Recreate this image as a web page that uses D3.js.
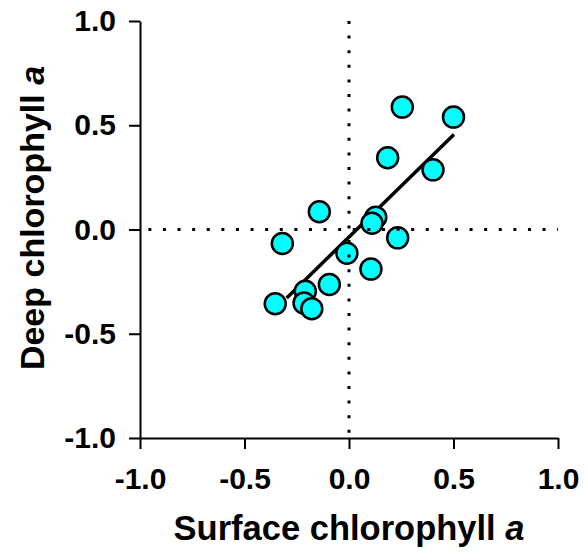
<!DOCTYPE html>
<html lang="en">
<head>
  <meta charset="UTF-8">
  <title>Surface vs deep chlorophyll a</title>
  <script src="https://d3js.org/d3.v7.min.js"></script>
  <style>
    body { margin: 0; background: #fff; }
    svg text { font-family: "Liberation Sans", Arial, sans-serif; font-weight: bold; fill: #000; }
  </style>
</head>
<body>
  <div id="chart"></div>
  <script>
    // anomalies
    const surfaceChl = [0.255, 0.50, 0.185, 0.402, -0.142, 0.128, 0.110, -0.319,
                        0.233, -0.010, 0.105, -0.094, -0.353, -0.209, -0.215, -0.178];
    const deepChl    = [0.587, 0.539, 0.344, 0.286, 0.085, 0.059, 0.030, -0.067,
                        -0.040, -0.114, -0.190, -0.264, -0.356, -0.296, -0.353, -0.380];
    // fitted line end points
    const fitX = [-0.298, 0.502];
    const fitY = [-0.328, 0.456];
    const tickValues = [-1.0, -0.5, 0.0, 0.5, 1.0];

    const W = 587, H = 555;
    const svg = d3.select("#chart").append("svg")
      .attr("width", W).attr("height", H);

    const x = d3.scaleLinear().domain([-1, 1]).range([140, 558]);
    const y = d3.scaleLinear().domain([-1, 1]).range([438, 21]);

    // fitted line (under the points)
    svg.append("line")
      .attr("x1", x(fitX[0])).attr("y1", y(fitY[0]))
      .attr("x2", x(fitX[1])).attr("y2", y(fitY[1]))
      .attr("stroke", "#000").attr("stroke-width", 3.5);

    // points
    svg.selectAll("circle.pt")
      .data(surfaceChl.map((v, i) => ({ sx: v, dy: deepChl[i] })))
      .enter().append("circle")
        .attr("class", "pt")
        .attr("cx", d => x(d.sx))
        .attr("cy", d => y(d.dy))
        .attr("r", 10.5)
        .attr("fill", "#00ffff")
        .attr("stroke", "#000")
        .attr("stroke-width", 2.5);

    // dotted zero lines (drawn over the points)
    svg.append("line")
      .attr("x1", x(-0.96)).attr("x2", x(1)).attr("y1", y(0)).attr("y2", y(0))
      .attr("stroke", "#000").attr("stroke-width", 3).attr("stroke-dasharray", "3 11.6");
    svg.append("line")
      .attr("x1", x(0)).attr("x2", x(0)).attr("y1", y(1)).attr("y2", y(-1))
      .attr("stroke", "#000").attr("stroke-width", 3).attr("stroke-dasharray", "3 11.6");

    // axes
    const xAxis = svg.append("g")
      .attr("transform", "translate(0," + y(-1) + ")")
      .call(d3.axisBottom(x).tickValues(tickValues).tickFormat(d3.format(".1f"))
        .tickSize(11).tickSizeOuter(0).tickPadding(19));
    const yAxis = svg.append("g")
      .attr("transform", "translate(" + x(-1) + ",0)")
      .call(d3.axisLeft(y).tickValues(tickValues).tickFormat(d3.format(".1f"))
        .tickSize(11).tickSizeOuter(0).tickPadding(13));

    [xAxis, yAxis].forEach(g => {
      g.selectAll("path, line").attr("stroke", "#000").attr("stroke-width", 2);
      g.selectAll("text").style("font-size", "30px").attr("fill", "#000");
    });
    // use a plain hyphen for negative labels
    svg.selectAll(".tick text").text(d => d3.format(".1f")(d).replace("−", "-"));

    // axis titles
    const xt = svg.append("text")
      .attr("x", x(0)).attr("y", 540)
      .attr("text-anchor", "middle")
      .style("font-size", "34.5px")
      .text("Surface chlorophyll ");
    xt.append("tspan").style("font-style", "italic").text("a");

    const yt = svg.append("text")
      .attr("transform", "translate(44," + 218 + ") rotate(-90)")
      .attr("text-anchor", "middle")
      .style("font-size", "34px")
      .text("Deep chlorophyll ");
    yt.append("tspan").style("font-style", "italic").text("a");
  </script>
</body>
</html>
